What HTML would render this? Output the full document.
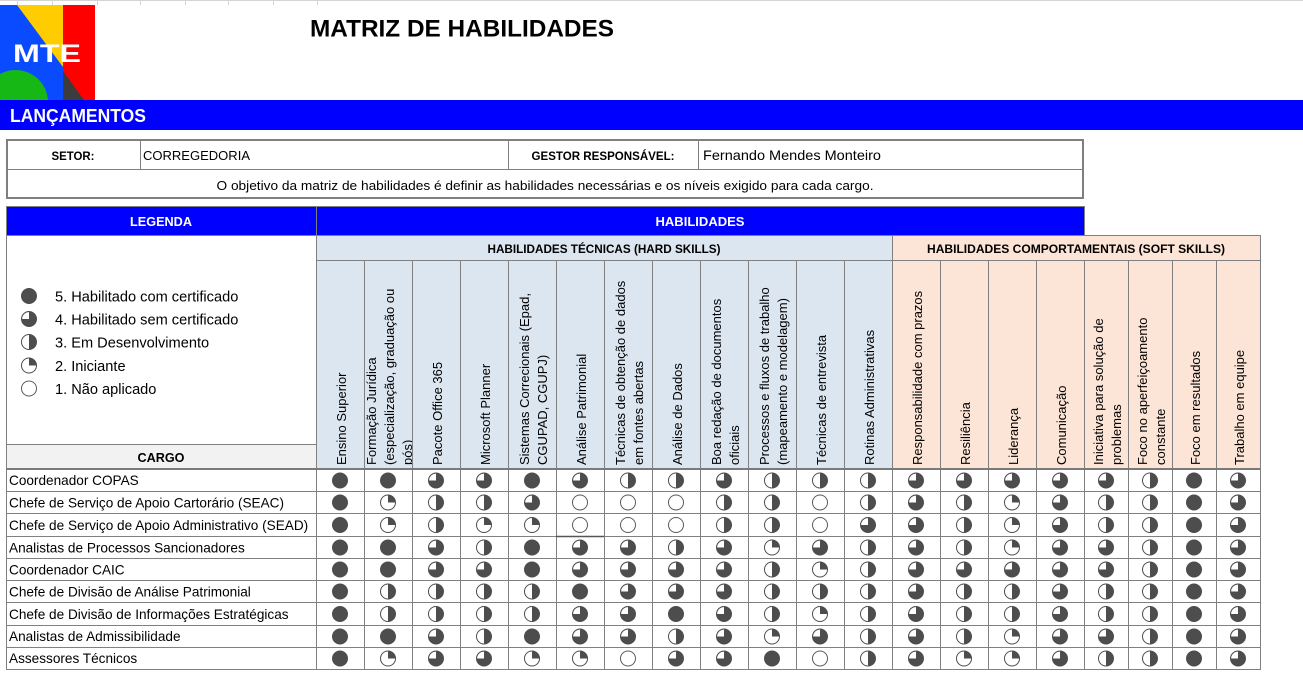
<!DOCTYPE html>
<html><head><meta charset="utf-8"><style>
html,body{margin:0;padding:0;background:#fff;}
svg{display:block;font-family:"Liberation Sans",Arial,sans-serif;}
</style></head><body>
<svg width="1303" height="696" viewBox="0 0 1303 696" xmlns="http://www.w3.org/2000/svg">
<defs>
 <g id="c5"><circle r="7.5" fill="#4d4d4d" stroke="#4d4d4d" stroke-width="1"/></g>
 <g id="c4"><circle r="7.5" fill="#4d4d4d" stroke="#4d4d4d" stroke-width="1"/><path d="M0,0 H-6.9 A6.9,6.9 0 0 1 0,-6.9 Z" fill="#fff"/></g>
 <g id="c3"><circle r="7.5" fill="#fff" stroke="#4d4d4d" stroke-width="1"/><path d="M0,-7.5 A7.5,7.5 0 0 1 0,7.5 Z" fill="#4d4d4d"/></g>
 <g id="c2"><circle r="7.5" fill="#fff" stroke="#4d4d4d" stroke-width="1"/><path d="M0,0 V-7.5 A7.5,7.5 0 0 1 7.5,0 Z" fill="#4d4d4d"/></g>
 <g id="c1"><circle r="7.5" fill="#fff" stroke="#5a5a5a" stroke-width="1"/></g>
 <clipPath id="logoclip"><rect x="0" y="5" width="95" height="95"/></clipPath>
 <clipPath id="fjclip"><rect x="364" y="260" width="48" height="208"/></clipPath>
</defs>

<!-- top sheet gridline remnants -->
<path d="M0,0.5 H1303 M17.5,0 V5 M52.5,0 V5 M97.5,0 V5 M140.5,0 V5 M185.5,0 V5 M228.5,0 V5 M273.5,0 V5 M317.5,0 V5" stroke="#d4d4d4" stroke-width="1" fill="none"/>

<!-- Logo -->
<g clip-path="url(#logoclip)">
 <rect x="0" y="5" width="95" height="95" fill="#0a4bff"/>
 <polygon points="17,5 63,5 63,67" fill="#ffcc00"/>
 <rect x="63" y="5" width="32" height="95" fill="#ff0000"/>
 <polygon points="63,71 63,100 84,100" fill="#3c3c3c"/>
 <circle cx="15.6" cy="102.5" r="32.5" fill="#16b816"/>
</g>
<text x="13" y="62" font-size="25" font-weight="bold" fill="#fff" textLength="68" lengthAdjust="spacingAndGlyphs">MTE</text>

<!-- Title -->
<text x="310" y="36.5" font-size="24" font-weight="bold" fill="#000" textLength="304" lengthAdjust="spacingAndGlyphs">MATRIZ DE HABILIDADES</text>

<!-- Blue bar -->
<rect x="0" y="100" width="1303" height="30" fill="#0000ff"/>
<text x="10" y="122" font-size="18" font-weight="bold" fill="#fff" textLength="136" lengthAdjust="spacingAndGlyphs">LANÇAMENTOS</text>

<!-- Info box -->
<rect x="7" y="140" width="1076" height="58" fill="#fff" stroke="#7f7f7f" stroke-width="2"/>
<path d="M6,169.5 H1084 M140.5,140 V169 M508.5,140 V169 M698.5,140 V169" stroke="#808080" stroke-width="1" fill="none"/>
<text x="73" y="160" font-size="11.5" font-weight="bold" text-anchor="middle" textLength="43" lengthAdjust="spacingAndGlyphs">SETOR:</text>
<text x="143" y="160" font-size="13" textLength="107" lengthAdjust="spacingAndGlyphs">CORREGEDORIA</text>
<text x="603" y="160" font-size="11.5" font-weight="bold" text-anchor="middle" textLength="143" lengthAdjust="spacingAndGlyphs">GESTOR RESPONSÁVEL:</text>
<text x="703" y="160" font-size="14" textLength="178" lengthAdjust="spacingAndGlyphs">Fernando Mendes Monteiro</text>
<text x="545" y="190" font-size="13" text-anchor="middle" textLength="657" lengthAdjust="spacingAndGlyphs">O objetivo da matriz de habilidades é definir as habilidades necessárias e os níveis exigido para cada cargo.</text>

<!-- Section header bars -->
<rect x="6.5" y="206.5" width="310" height="29" fill="#0000ff" stroke="#808080" stroke-width="1"/>
<rect x="316.5" y="206.5" width="768" height="29" fill="#0000ff" stroke="#808080" stroke-width="1"/>
<text x="161" y="226" font-size="12.5" font-weight="bold" fill="#fff" text-anchor="middle" textLength="62" lengthAdjust="spacingAndGlyphs">LEGENDA</text>
<text x="700" y="226" font-size="12.5" font-weight="bold" fill="#fff" text-anchor="middle" textLength="89" lengthAdjust="spacingAndGlyphs">HABILIDADES</text>

<!-- Backgrounds -->
<rect x="6" y="236" width="310" height="208" fill="#fff"/>
<rect x="316" y="235" width="576" height="233" fill="#dce6f1"/>
<rect x="892" y="235" width="368" height="233" fill="#fce4d6"/>
<rect x="6" y="444" width="310" height="24" fill="#f2f2f2"/>

<!-- Group headers -->
<text x="604" y="253" font-size="11.7" font-weight="bold" text-anchor="middle" textLength="233" lengthAdjust="spacingAndGlyphs">HABILIDADES TÉCNICAS (HARD SKILLS)</text>
<text x="1076" y="253" font-size="11.7" font-weight="bold" text-anchor="middle" textLength="298" lengthAdjust="spacingAndGlyphs">HABILIDADES COMPORTAMENTAIS (SOFT SKILLS)</text>

<!-- Legend -->
<use href="#c5" x="29" y="296"/>
<use href="#c4" x="29" y="319"/>
<use href="#c3" x="29" y="342"/>
<use href="#c2" x="29" y="365.5"/>
<use href="#c1" x="29" y="388.5"/>
<g font-size="14.6" fill="#000">
 <text x="55" y="301.5">5. Habilitado com certificado</text>
 <text x="55" y="324.5">4. Habilitado sem certificado</text>
 <text x="55" y="347.5">3. Em Desenvolvimento</text>
 <text x="55" y="371">2. Iniciante</text>
 <text x="55" y="394">1. Não aplicado</text>
</g>
<text x="161" y="462" font-size="12.6" font-weight="bold" text-anchor="middle" textLength="47" lengthAdjust="spacingAndGlyphs">CARGO</text>

<!-- Rotated column headers -->
<g font-size="13" fill="#000">
 <text transform="translate(346,465) rotate(-90)">Ensino Superior</text>
 <g clip-path="url(#fjclip)">
  <text transform="translate(376,465) rotate(-90)">Formação Jurídica</text>
  <text transform="translate(394,465) rotate(-90)">(especialização, graduação ou</text>
  <text transform="translate(412,465) rotate(-90)">pós)</text>
 </g>
 <text transform="translate(442,465) rotate(-90)">Pacote Office 365</text>
 <text transform="translate(490,465) rotate(-90)">Microsoft Planner</text>
 <text transform="translate(529,465) rotate(-90)">Sistemas Correcionais (Epad,</text>
 <text transform="translate(547,465) rotate(-90)">CGUPAD, CGUPJ)</text>
 <text transform="translate(586,465) rotate(-90)">Análise Patrimonial</text>
 <text transform="translate(625,465) rotate(-90)">Técnicas de obtenção de dados</text>
 <text transform="translate(643,465) rotate(-90)">em fontes abertas</text>
 <text transform="translate(682,465) rotate(-90)">Análise de Dados</text>
 <text transform="translate(721,465) rotate(-90)">Boa redação de documentos</text>
 <text transform="translate(739,465) rotate(-90)">oficiais</text>
 <text transform="translate(769,465) rotate(-90)">Processos e fluxos de trabalho</text>
 <text transform="translate(787,465) rotate(-90)">(mapeamento e modelagem)</text>
 <text transform="translate(826,465) rotate(-90)">Técnicas de entrevista</text>
 <text transform="translate(874,465) rotate(-90)">Rotinas Administrativas</text>
 <text transform="translate(922,465) rotate(-90)">Responsabilidade com prazos</text>
 <text transform="translate(970,465) rotate(-90)">Resiliência</text>
 <text transform="translate(1018,465) rotate(-90)">Liderança</text>
 <text transform="translate(1066,465) rotate(-90)">Comunicação</text>
 <text transform="translate(1103,465) rotate(-90)">Iniciativa para solução de</text>
 <text transform="translate(1121,465) rotate(-90)">problemas</text>
 <text transform="translate(1147,465) rotate(-90)">Foco no aperfeiçoamento</text>
 <text transform="translate(1165,465) rotate(-90)">constante</text>
 <text transform="translate(1200,465) rotate(-90)">Foco em resultados</text>
 <text transform="translate(1244,465) rotate(-90)">Trabalho em equipe</text>
</g>

<!-- Grid lines -->
<path d="M6.5,235 V670 M316.5,206 V670
 M364.5,260 V670 M412.5,260 V670 M460.5,260 V670 M508.5,260 V670 M556.5,260 V670 M604.5,260 V670 M652.5,260 V670 M700.5,260 V670 M748.5,260 V670 M796.5,260 V670 M844.5,260 V670
 M892.5,235 V670
 M940.5,260 V670 M988.5,260 V670 M1036.5,260 V670 M1084.5,260 V670 M1128.5,260 V670 M1172.5,260 V670 M1216.5,260 V670
 M1260.5,235 V670
 M6,235.5 H1261 M316,260.5 H1261 M6,444.5 H316
 M6,491.5 H1261 M6,513.5 H1261 M6,536.5 H1261 M6,558.5 H1261 M6,580.5 H1261 M6,602.5 H1261 M6,625.5 H1261 M6,647.5 H1261 M6,669.5 H1261"
 stroke="#808080" stroke-width="1" fill="none"/>
<rect x="6" y="468" width="1255" height="2" fill="#7a7a7a"/>
<path d="M556,536.5 H604" stroke="#555" stroke-width="1.5"/>

<!-- Row labels -->
<g font-size="13.6" fill="#000">
 <text x="9" y="485">Coordenador COPAS</text>
 <text x="9" y="507.5">Chefe de Serviço de Apoio Cartorário (SEAC)</text>
 <text x="9" y="530">Chefe de Serviço de Apoio Administrativo (SEAD)</text>
 <text x="9" y="552.5">Analistas de Processos Sancionadores</text>
 <text x="9" y="574.5">Coordenador CAIC</text>
 <text x="9" y="596.5">Chefe de Divisão de Análise Patrimonial</text>
 <text x="9" y="619">Chefe de Divisão de Informações Estratégicas</text>
 <text x="9" y="641">Analistas de Admissibilidade</text>
 <text x="9" y="663">Assessores Técnicos</text>
</g>

<!-- Data -->
<!-- R1: 5,5,4,4,5,4,3,3,4,3,3,3,4,4,4,4,4,3,5,4 -->
<g transform="translate(0,480.5)">
<use href="#c5" x="340"/><use href="#c5" x="388"/><use href="#c4" x="436"/><use href="#c4" x="484"/><use href="#c5" x="532"/><use href="#c4" x="580"/><use href="#c3" x="628"/><use href="#c3" x="676"/><use href="#c4" x="724"/><use href="#c3" x="772"/><use href="#c3" x="820"/><use href="#c3" x="868"/><use href="#c4" x="916"/><use href="#c4" x="964"/><use href="#c4" x="1012"/><use href="#c4" x="1060"/><use href="#c4" x="1106"/><use href="#c3" x="1150"/><use href="#c5" x="1194"/><use href="#c4" x="1238"/>
</g>
<!-- R2: 5,2,3,3,4,1,1,1,3,3,1,3,4,3,2,4,3,3,5,4 -->
<g transform="translate(0,502.5)">
<use href="#c5" x="340"/><use href="#c2" x="388"/><use href="#c3" x="436"/><use href="#c3" x="484"/><use href="#c4" x="532"/><use href="#c1" x="580"/><use href="#c1" x="628"/><use href="#c1" x="676"/><use href="#c3" x="724"/><use href="#c3" x="772"/><use href="#c1" x="820"/><use href="#c3" x="868"/><use href="#c4" x="916"/><use href="#c3" x="964"/><use href="#c2" x="1012"/><use href="#c4" x="1060"/><use href="#c3" x="1106"/><use href="#c3" x="1150"/><use href="#c5" x="1194"/><use href="#c4" x="1238"/>
</g>
<!-- R3: 5,2,3,2,2,1,1,1,3,3,1,4,4,3,2,4,3,3,5,4 -->
<g transform="translate(0,525)">
<use href="#c5" x="340"/><use href="#c2" x="388"/><use href="#c3" x="436"/><use href="#c2" x="484"/><use href="#c2" x="532"/><use href="#c1" x="580"/><use href="#c1" x="628"/><use href="#c1" x="676"/><use href="#c3" x="724"/><use href="#c3" x="772"/><use href="#c1" x="820"/><use href="#c4" x="868"/><use href="#c4" x="916"/><use href="#c3" x="964"/><use href="#c2" x="1012"/><use href="#c4" x="1060"/><use href="#c3" x="1106"/><use href="#c3" x="1150"/><use href="#c5" x="1194"/><use href="#c4" x="1238"/>
</g>
<!-- R4: 5,5,4,3,5,4,4,3,4,2,4,3,4,3,2,4,4,3,5,4 -->
<g transform="translate(0,547.5)">
<use href="#c5" x="340"/><use href="#c5" x="388"/><use href="#c4" x="436"/><use href="#c3" x="484"/><use href="#c5" x="532"/><use href="#c4" x="580"/><use href="#c4" x="628"/><use href="#c3" x="676"/><use href="#c4" x="724"/><use href="#c2" x="772"/><use href="#c4" x="820"/><use href="#c3" x="868"/><use href="#c4" x="916"/><use href="#c3" x="964"/><use href="#c2" x="1012"/><use href="#c4" x="1060"/><use href="#c4" x="1106"/><use href="#c3" x="1150"/><use href="#c5" x="1194"/><use href="#c4" x="1238"/>
</g>
<!-- R5: 5,5,4,4,5,4,4,4,4,3,2,3,4,4,4,4,4,3,5,4 -->
<g transform="translate(0,569.5)">
<use href="#c5" x="340"/><use href="#c5" x="388"/><use href="#c4" x="436"/><use href="#c4" x="484"/><use href="#c5" x="532"/><use href="#c4" x="580"/><use href="#c4" x="628"/><use href="#c4" x="676"/><use href="#c4" x="724"/><use href="#c3" x="772"/><use href="#c2" x="820"/><use href="#c3" x="868"/><use href="#c4" x="916"/><use href="#c4" x="964"/><use href="#c4" x="1012"/><use href="#c4" x="1060"/><use href="#c4" x="1106"/><use href="#c3" x="1150"/><use href="#c5" x="1194"/><use href="#c4" x="1238"/>
</g>
<!-- R6: 5,3,3,3,3,5,4,4,4,3,3,3,4,3,3,4,3,3,5,4 -->
<g transform="translate(0,591.5)">
<use href="#c5" x="340"/><use href="#c3" x="388"/><use href="#c3" x="436"/><use href="#c3" x="484"/><use href="#c3" x="532"/><use href="#c5" x="580"/><use href="#c4" x="628"/><use href="#c4" x="676"/><use href="#c4" x="724"/><use href="#c3" x="772"/><use href="#c3" x="820"/><use href="#c3" x="868"/><use href="#c4" x="916"/><use href="#c3" x="964"/><use href="#c3" x="1012"/><use href="#c4" x="1060"/><use href="#c3" x="1106"/><use href="#c3" x="1150"/><use href="#c5" x="1194"/><use href="#c4" x="1238"/>
</g>
<!-- R7: 5,3,3,3,3,4,4,5,4,3,2,3,4,3,3,4,3,3,5,4 -->
<g transform="translate(0,614)">
<use href="#c5" x="340"/><use href="#c3" x="388"/><use href="#c3" x="436"/><use href="#c3" x="484"/><use href="#c3" x="532"/><use href="#c4" x="580"/><use href="#c4" x="628"/><use href="#c5" x="676"/><use href="#c4" x="724"/><use href="#c3" x="772"/><use href="#c2" x="820"/><use href="#c3" x="868"/><use href="#c4" x="916"/><use href="#c3" x="964"/><use href="#c3" x="1012"/><use href="#c4" x="1060"/><use href="#c3" x="1106"/><use href="#c3" x="1150"/><use href="#c5" x="1194"/><use href="#c4" x="1238"/>
</g>
<!-- R8: 5,5,4,3,5,4,4,3,4,2,4,3,4,3,2,4,4,3,5,4 -->
<g transform="translate(0,636.5)">
<use href="#c5" x="340"/><use href="#c5" x="388"/><use href="#c4" x="436"/><use href="#c3" x="484"/><use href="#c5" x="532"/><use href="#c4" x="580"/><use href="#c4" x="628"/><use href="#c3" x="676"/><use href="#c4" x="724"/><use href="#c2" x="772"/><use href="#c4" x="820"/><use href="#c3" x="868"/><use href="#c4" x="916"/><use href="#c3" x="964"/><use href="#c2" x="1012"/><use href="#c4" x="1060"/><use href="#c4" x="1106"/><use href="#c3" x="1150"/><use href="#c5" x="1194"/><use href="#c4" x="1238"/>
</g>
<!-- R9: 5,2,4,4,2,2,1,4,4,5,1,3,4,2,2,4,3,3,5,4 -->
<g transform="translate(0,658.5)">
<use href="#c5" x="340"/><use href="#c2" x="388"/><use href="#c4" x="436"/><use href="#c4" x="484"/><use href="#c2" x="532"/><use href="#c2" x="580"/><use href="#c1" x="628"/><use href="#c4" x="676"/><use href="#c4" x="724"/><use href="#c5" x="772"/><use href="#c1" x="820"/><use href="#c3" x="868"/><use href="#c4" x="916"/><use href="#c2" x="964"/><use href="#c2" x="1012"/><use href="#c4" x="1060"/><use href="#c3" x="1106"/><use href="#c3" x="1150"/><use href="#c5" x="1194"/><use href="#c4" x="1238"/>
</g>
</svg>
</body></html>
